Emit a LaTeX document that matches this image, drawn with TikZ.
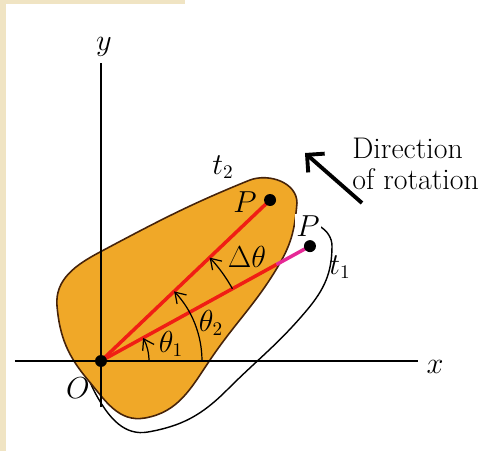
\documentclass[tikz,border=0pt]{standalone}
\usetikzlibrary{arrows.meta,calc}
\definecolor{bodyorange}{RGB}{240,168,40}
\definecolor{edgebrown}{RGB}{70,35,10}
\definecolor{radred}{RGB}{240,30,20}
\definecolor{segmagenta}{RGB}{230,40,150}
\definecolor{paperbeige}{RGB}{240,228,195}

\begin{document}
\begin{tikzpicture}[
		x=0.02cm, y=0.02cm,
		>=Stealth,
		lbl/.style={font=\fontsize{16}{19}\selectfont, inner sep=0pt},
		body/.style={draw=edgebrown, fill=bodyorange, line width=0.9pt},
		outline/.style={draw=black, line width=0.8pt},
		axis/.style={line width=1pt},
		radial/.style={draw=radred, line width=2pt},
		anglearc/.style={-{Straight Barb[length=2mm,width=2.6mm]}, line width=0.7pt},
		dot/.style={circle, fill=black, inner sep=0pt, minimum size=0.24cm},
	]

	\useasboundingbox (0,0) rectangle (495,451);
	\fill[paperbeige] (0,0) rectangle (6,451);
	\fill[paperbeige] (0,447) rectangle (185,451);

	% points
	\coordinate (O) at (101,90);
	\coordinate (P1) at ($(O)+(28.8:4.77cm)$);
	\coordinate (P2) at ($(O)+(43.6:4.67cm)$);
	\coordinate (cross) at ($(O)!0.84!(P1)$);

	% body at t1
	\draw[outline] (297,228) to[out=15, in=90] (332,205)
	to[out=-90, in=50] (307,141)
	to[out=230, in=45] (227,61)
	to[out=225, in=10] (148,19)
	to[out=190, in=-60] (98,53)
	to[out=120, in=-90] (80,140)
	to[out=60, in=200] (180,205)
	to[out=20, in=190] cycle;

	% body at t2
	\draw[body] (297,248) to[out=-95, in=60] (280,188)
	to[out=240, in=56] (210,91)
	to[out=236, in=10] (145,33)
	to[out=190, in=-50] (88,71)
	to[out=130, in=-85] (57,145)
	to[out=95, in=208] (100,199)
	to[out=28, in=202] (250,271)
	to[out=20, in=90] cycle;

	% axes
	\coordinate (xa) at (15,90);
	\coordinate (xb) at (418,90);
	\coordinate (ya) at (101,44);
	\coordinate (yb) at (101,388);
	\draw[axis] (xa) -- (xb);
	\draw[axis] (ya) -- (yb);

	% radial lines
	\draw[radial] (O) -- (P2);
	\draw[radial] (O) -- (cross);
	\draw[radial, draw=segmagenta] (cross) -- (P1);

	% angles
	\draw[anglearc] ($(O)+(0:0.96cm)$) arc[start angle=0, end angle=28.8, radius=0.96cm];
	\draw[anglearc] ($(O)+(0:2.02cm)$) arc[start angle=0, end angle=43.6, radius=2.02cm];
	\draw[anglearc] ($(O)+(28.8:3cm)$) arc[start angle=28.8, end angle=43.6, radius=3cm];

	\node[dot] (Odot) at (O) {};
	\node[dot] (P1dot) at (P1) {};
	\node[dot] (P2dot) at (P2) {};

	\node[lbl] (xlbl) at (435,84) {$x$};
	\node[lbl] (ylbl) at (104,404) {$y$};
	\node[lbl] (Olbl) at (78,63) {$O$};
	\node[lbl] (P2lbl) at (245,249) {$P$};
	\node[lbl, fill=white, inner sep=1pt] (P1lbl) at (308,225) {$P$};
	\node[lbl] (t2lbl) at (223,284) {$t_2$};
	\node[lbl] (t1lbl) at (340,184) {$t_1$};
	\node[lbl] (th1lbl) at (171,107) {$\theta_1$};
	\node[lbl] (th2lbl) at (211,128) {$\theta_2$};
	\node[lbl] (dthlbl) at (247,194) {$\Delta\theta$};

	% direction of rotation
	\node[font=\fontsize{17}{18}\selectfont, align=left, anchor=west, inner sep=0pt]
	(dirtext) at (352,287) {Direction\\of rotation};
	\coordinate (rottail) at (362,248);
	\coordinate (rothead) at (305,298);
	\draw[line width=2.2pt, -{Straight Barb[length=2.5mm,width=5mm]}] (rottail) -- (rothead);

\end{tikzpicture}
\end{document}
